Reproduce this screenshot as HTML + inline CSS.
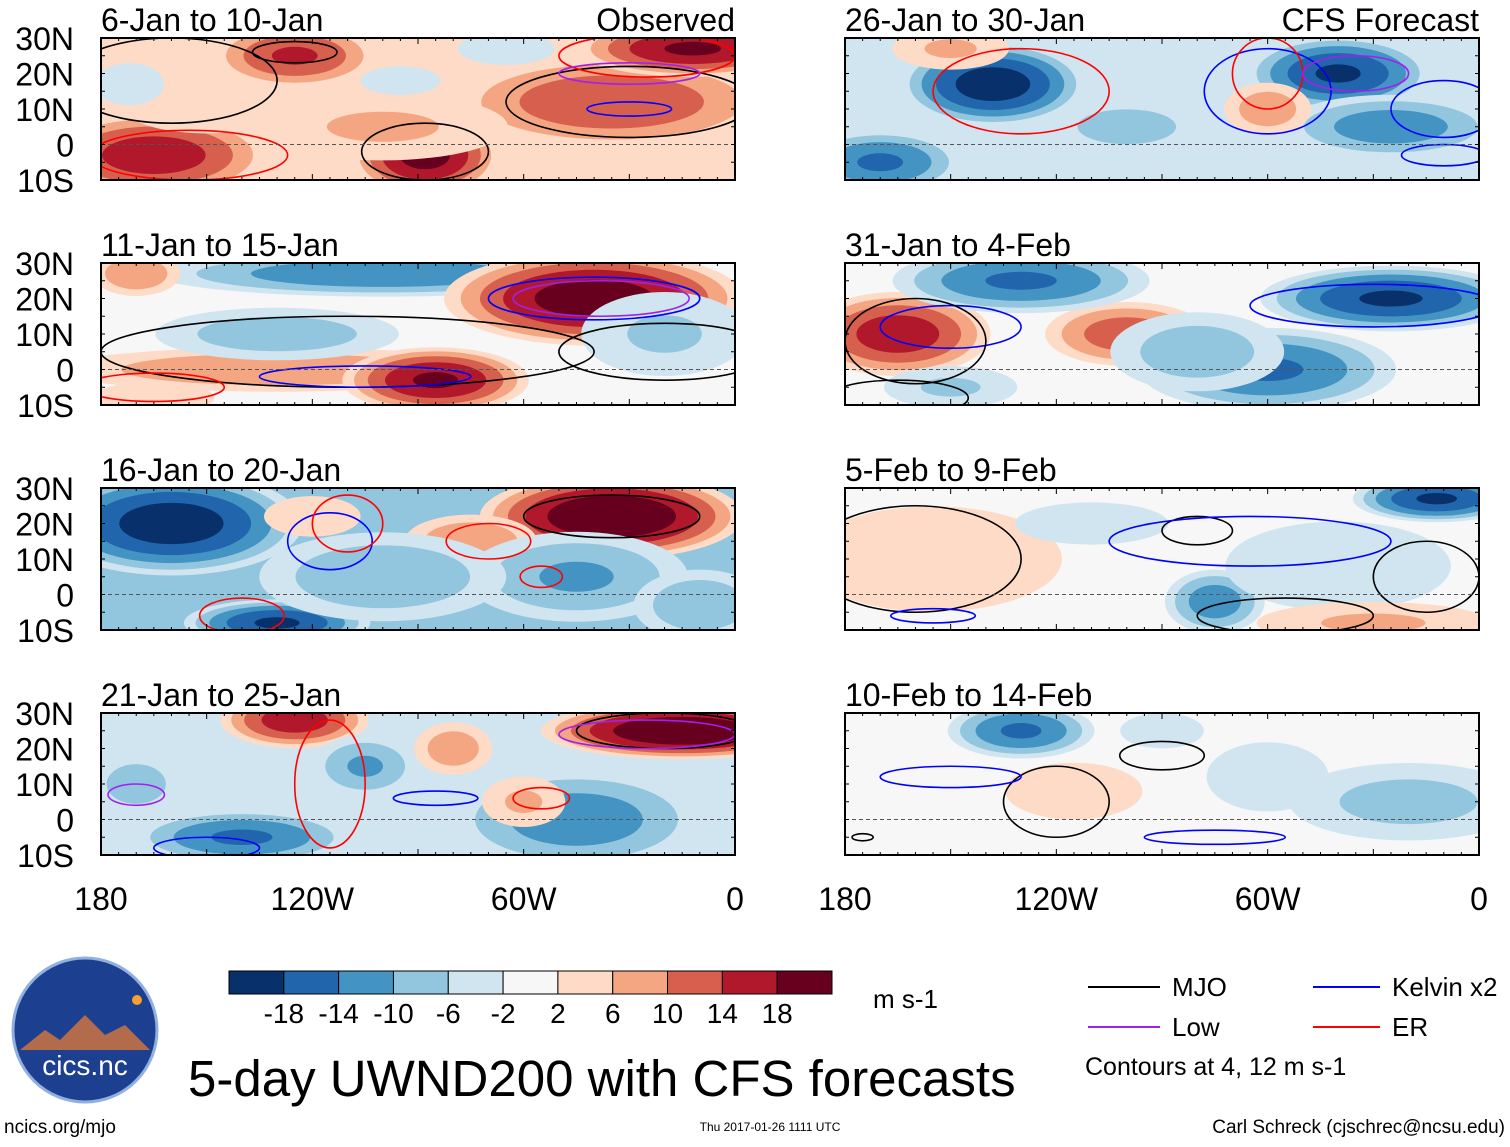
<!DOCTYPE html>
<html><head><meta charset="utf-8">
<style>
body{margin:0;background:#fff;}
svg text{font-family:"Liberation Sans",sans-serif;}
</style></head>
<body>
<svg id="fig" width="1510" height="1142" viewBox="0 0 1510 1142" xmlns="http://www.w3.org/2000/svg">
<rect width="1510" height="1142" fill="#fff"/>
<g id="panels"></g>
<g id="colorbar"></g>
<g>
<circle cx="85" cy="1030" r="72" fill="#1d3f8f"/>
<circle cx="85" cy="1030" r="72" fill="none" stroke="#8fb0e0" stroke-width="3"/>
<path d="M20 1050 L45 1030 L60 1040 L85 1015 L105 1035 L125 1025 L150 1050 Z" fill="#d9783a" opacity="0.8"/>
<circle cx="137" cy="1000" r="5" fill="#f5a030"/>
<text x="85" y="1075" font-size="28" fill="#fff" text-anchor="middle">cics.nc</text>
</g>
<text x="188" y="1096" font-size="51">5-day UWND200 with CFS forecasts</text>
<text x="873" y="1008" font-size="26">m s-1</text>
<g>
<line x1="1088" y1="987" x2="1160" y2="987" stroke="#000" stroke-width="2"/>
<text x="1172" y="996" font-size="26">MJO</text>
<line x1="1313" y1="987" x2="1380" y2="987" stroke="#0000ff" stroke-width="2"/>
<text x="1392" y="996" font-size="26">Kelvin x2</text>
<line x1="1088" y1="1027" x2="1160" y2="1027" stroke="#a020f0" stroke-width="2"/>
<text x="1172" y="1036" font-size="26">Low</text>
<line x1="1313" y1="1027" x2="1380" y2="1027" stroke="#ff0000" stroke-width="2"/>
<text x="1392" y="1036" font-size="26">ER</text>
<text x="1085" y="1075" font-size="25">Contours at 4, 12 m s-1</text>
</g>
<text x="4" y="1133" font-size="19">ncics.org/mjo</text>
<text x="770" y="1131" font-size="12" text-anchor="middle">Thu 2017-01-26 1111 UTC</text>
<text x="1505" y="1133" font-size="19" text-anchor="end">Carl Schreck (cjschrec@ncsu.edu)</text>
</svg>
<script>
const titles=["6-Jan to 10-Jan","11-Jan to 15-Jan","16-Jan to 20-Jan","21-Jan to 25-Jan","26-Jan to 30-Jan","31-Jan to 4-Feb","5-Feb to 9-Feb","10-Feb to 14-Feb"];
const backgrounds=[4,0,-7,-4,-4,-1,0,-1];
// blobs: [lon, lat, rxDeg, ryDeg, value m/s]
const blobs=[
 [[-165,-3,25,9,17],[-88,-3,16,9,20],[-125,25,18,7,15],[-35,12,35,10,14],[-12,27,25,6,19],[-100,5,30,8,7],[-150,10,20,6,6],[-65,27,12,4,-6],[-172,17,10,6,-4],[-95,18,14,5,-3]],
 [[-100,27,50,5,-14],[-40,20,32,10,21],[-130,0,50,5,10],[-85,-3,20,7,19],[-130,10,28,6,-9],[-20,10,20,10,-7],[-170,27,10,5,10],[-165,-8,15,4,6]],
 [[-160,20,28,11,-21],[-130,-8,20,5,-19],[-35,22,28,9,23],[-75,15,15,6,10],[-45,5,25,10,-11],[-100,5,28,10,-10],[-10,-3,15,8,-10],[-120,22,12,5,6]],
 [[-125,28,16,6,17],[-15,25,30,6,23],[-140,-5,24,6,-15],[-45,0,28,11,-13],[-105,15,12,7,-11],[-80,20,9,6,9],[-60,5,10,6,7],[-170,10,12,8,-8]],
 [[-138,17,20,9,-21],[-40,20,20,8,-19],[-170,-5,18,7,-15],[-25,5,24,7,-13],[-60,10,10,6,9],[-150,27,14,5,7],[-100,5,20,7,-8]],
 [[-165,10,20,9,17],[-100,10,18,7,13],[-130,25,28,7,-15],[-25,20,28,7,-19],[-60,0,28,9,-15],[-80,5,20,9,-9],[-150,-5,16,5,-7]],
 [[-155,10,32,13,6],[-12,27,18,5,-19],[-75,-2,11,7,-13],[-40,8,28,11,-6],[-30,-8,28,5,7],[-110,20,22,6,-4]],
 [[-130,25,16,6,-15],[-20,5,28,9,-8],[-115,8,17,7,6],[-60,12,16,9,-5],[-90,25,12,5,-4]]
];
// contours: [lon, lat, rxDeg, ryDeg, colorIndex 0 MJO 1 Kelvin 2 Low 3 ER]
const contours=[
 [[-125,26,12,3,0],[-155,-3,28,7,3],[-88,-2,18,8,0],[-30,12,35,10,0],[-160,18,30,12,0],[-25,25,25,6,3],[-30,20,20,3,2],[-30,10,12,2,1]],
 [[-110,5,70,10,0],[-40,20,30,6,1],[-38,20,25,5,2],[-105,-2,30,3,1],[-165,-5,20,4,3],[-20,5,30,8,0]],
 [[-35,22,25,6,0],[-115,15,12,8,1],[-110,20,10,8,3],[-140,-6,12,5,3],[-55,5,6,3,3],[-70,15,12,5,3]],
 [[-20,25,25,5,0],[-25,24,25,4,2],[-115,10,10,18,3],[-55,6,8,3,3],[-85,6,12,2,1],[-170,7,8,3,2],[-150,-8,15,3,1]],
 [[-130,15,25,12,3],[-60,15,18,12,1],[-10,10,15,8,1],[-60,20,10,10,3],[-35,20,15,5,2],[-10,-3,12,3,1]],
 [[-150,12,20,6,1],[-160,8,20,12,0],[-30,18,35,6,1],[-165,-8,20,5,0]],
 [[-160,10,30,15,0],[-80,18,10,4,0],[-65,15,40,7,1],[-15,5,15,10,0],[-155,-6,12,2,1],[-55,-6,25,5,0]],
 [[-90,18,12,4,0],[-120,5,15,10,0],[-150,12,20,3,1],[-75,-5,20,2,1],[-175,-5,3,1,0]]
];
const levelColors=["#08306b","#2166ac","#4393c3","#92c5de","#d1e5f0","#f7f7f7","#fddbc7","#f4a582","#d6604d","#b2182b","#67001f"];
const cbTicks=["-18","-14","-10","-6","-2","2","6","10","14","18"];
const contourColors=["#000","#0000ff","#a020f0","#ff0000"];
const NS="http://www.w3.org/2000/svg";
function mk(tag,attrs,parent){const e=document.createElementNS(NS,tag);for(const k in attrs)e.setAttribute(k,attrs[k]);parent.appendChild(e);return e;}
function levelIndex(v){const t=[-18,-14,-10,-6,-2,2,6,10,14,18];let i=0;while(i<t.length&&v>t[i])i++;return i;}
const PW=634,PH=142;
const lefts=[101,845],tops=[38,263,488,713];
const root=document.getElementById('panels');
for(let p=0;p<8;p++){
 const col=p<4?0:1,row=p%4;
 const x0=lefts[col],y0=tops[row];
 const xs=lon=>x0+(lon+180)/180*PW;
 const ys=lat=>y0+(30-lat)/40*PH;
 const g=mk('g',{},root);
 
 
 const cp=mk('clipPath',{id:'c'+p},g);
 mk('rect',{x:x0,y:y0,width:PW,height:PH},cp);
 const inner=mk('g',{'clip-path':'url(#c'+p+')'},g);
 mk('rect',{x:x0,y:y0,width:PW,height:PH,fill:levelColors[levelIndex(backgrounds[p])]},inner);
 const th=[2,6,10,14,18];
 blobs[p].forEach(b=>{
  const [lon,lat,rx,ry,v]=b;const a=Math.abs(v);
  th.forEach(t=>{ if(a>t){const s=Math.sqrt(1-t/a)*1.4;
   const e=mk('ellipse',{cx:xs(lon),cy:ys(lat),rx:rx*s*PW/180,ry:ry*s*PH/40,fill:levelColors[levelIndex(Math.sign(v)*(t+1))]},inner);
   
   }});
 });
 contours[p].forEach(c=>{
  const e=mk('ellipse',{cx:xs(c[0]),cy:ys(c[1]),rx:c[2]*PW/180,ry:c[3]*PH/40,fill:'none',stroke:contourColors[c[4]],'stroke-width':1.6},inner);
  
  
 });
 mk('line',{x1:x0,x2:x0+PW,y1:ys(0),y2:ys(0),stroke:'#555','stroke-dasharray':'4 3','stroke-width':1},inner);
 mk('rect',{x:x0,y:y0,width:PW,height:PH,fill:'none',stroke:'#000','stroke-width':2},g);
 for(let lon=-180;lon<=0;lon+=5){const big=lon%30==0;
  mk('line',{x1:xs(lon),x2:xs(lon),y1:y0,y2:y0+(big?6:3),stroke:'#000'},g);
  mk('line',{x1:xs(lon),x2:xs(lon),y1:y0+PH,y2:y0+PH-(big?6:3),stroke:'#000'},g);}
 for(let lat=-10;lat<=30;lat+=5){
  mk('line',{x1:x0,x2:x0+4,y1:ys(lat),y2:ys(lat),stroke:'#000'},g);
  mk('line',{x1:x0+PW,x2:x0+PW-4,y1:ys(lat),y2:ys(lat),stroke:'#000'},g);}
 const t=mk('text',{x:x0,y:y0-7,'font-size':32},g);t.textContent=titles[p];
 
 
 if(row==0){const r=mk('text',{x:x0+PW,y:y0-7,'font-size':32,'text-anchor':'end'},g);r.textContent=col==0?'Observed':'CFS Forecast';
  
  }
 if(col==0){[[30,'30N'],[20,'20N'],[10,'10N'],[0,'0'],[-10,'10S']].forEach(([lat,l])=>{
  const y=mk('text',{x:74,y:ys(lat)+12,'font-size':32,'text-anchor':'end'},g);y.textContent=l;
  
  });}
 if(row==3){[[-180,'180'],[-120,'120W'],[-60,'60W'],[0,'0']].forEach(([lon,l])=>{
  const x=mk('text',{x:xs(lon),y:910,'font-size':32,'text-anchor':'middle'},g);x.textContent=l;
  
  });}
}
const cb=document.getElementById('colorbar');
const bw=603/11;
levelColors.forEach((c,i)=>{const r=mk('rect',{x:229+i*bw,y:971,width:bw,height:23,fill:c,stroke:'#000','stroke-width':1},cb);
 
 });
cbTicks.forEach((l,i)=>{const t=mk('text',{x:229+(i+1)*bw,y:1023,'font-size':28,'text-anchor':'middle'},cb);t.textContent=l;
 
 });
</script>
</body></html>
